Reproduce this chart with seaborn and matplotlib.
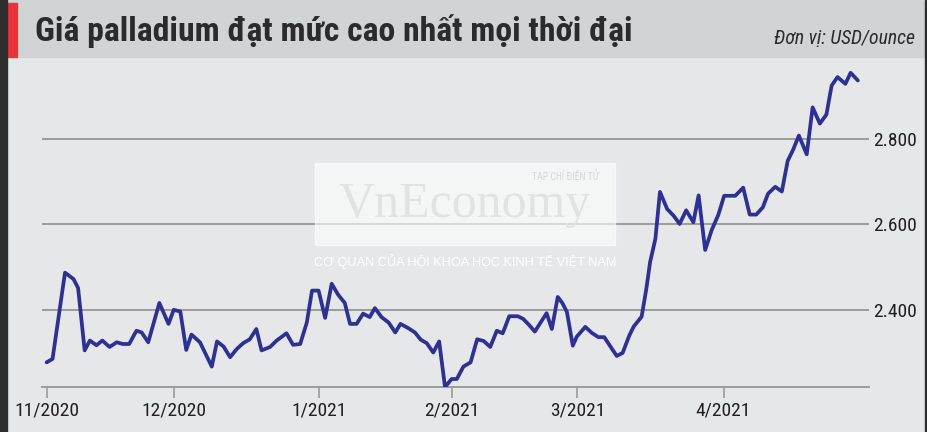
import matplotlib.pyplot as plt
from matplotlib.patches import Rectangle
import pandas as pd
import seaborn as sns

# position in trading days (0 = first session of Nov 2020) and palladium price, USD/ounce
day = [0, 0.9, 2.8, 4.1, 4.8, 5.8, 6.6, 7.6, 8.5, 9.6,
       10.7, 11.6, 12.6, 13.7, 14.5, 15.5, 17.2, 18.6, 19.4, 20.4,
       21.3, 22.1, 23.4, 25.2, 26.0, 27.0, 28.0, 29.0, 30.0, 31.0,
       32.0, 32.8, 34.1, 35.1, 36.6, 37.6, 38.7, 39.7, 40.5, 41.5,
       42.5, 43.5, 44.5, 45.5, 46.3, 47.3, 48.3, 49.3, 50.1, 51.1,
       52.2, 53.2, 54.0, 55.2, 56.2, 57.1, 58.0, 59.0, 59.9, 60.8,
       61.8, 62.6, 63.6, 64.7, 65.7, 66.7, 67.7, 68.7, 69.6, 70.6,
       71.9, 72.7, 73.6, 74.5, 75.5, 76.3, 77.1, 78.0, 78.7, 79.4,
       80.3, 80.9, 82.2, 83.2, 84.2, 85.1, 86.0, 87.0, 87.9, 88.9,
       89.6, 90.8, 91.5, 92.1, 92.9, 93.6, 94.7, 95.7, 96.6, 97.6,
       98.7, 99.5, 100.5, 101.5, 102.5, 103.4, 105.1, 106.3, 107.3, 108.3,
       109.3, 110.1, 111.2, 112.2, 113.1, 113.9, 114.8, 116.0, 116.9, 118.0,
       119.0, 119.8, 120.7, 121.9, 122.7, 123.8]
price = [2277, 2285, 2487, 2472, 2451, 2305, 2328, 2317, 2328, 2313,
         2324, 2320, 2320, 2351, 2347, 2324, 2416, 2367, 2400, 2396,
         2306, 2342, 2324, 2267, 2326, 2314, 2289, 2308, 2322, 2331,
         2355, 2305, 2313, 2328, 2345, 2318, 2320, 2370, 2445, 2445,
         2381, 2461, 2435, 2416, 2367, 2367, 2391, 2383, 2404, 2383,
         2370, 2347, 2367, 2357, 2347, 2330, 2322, 2300, 2326, 2219,
         2238, 2238, 2267, 2277, 2331, 2327, 2313, 2351, 2345, 2385,
         2385, 2379, 2365, 2349, 2373, 2392, 2355, 2430, 2416, 2395,
         2316, 2337, 2360, 2346, 2336, 2336, 2315, 2292, 2299, 2339,
         2361, 2384, 2447, 2512, 2566, 2676, 2636, 2620, 2601, 2633,
         2605, 2668, 2540, 2587, 2622, 2667, 2667, 2686, 2623, 2623,
         2640, 2672, 2688, 2677, 2749, 2774, 2808, 2764, 2874, 2836,
         2857, 2925, 2945, 2929, 2955, 2937]

tick_pos = [0, 19.4, 41.6, 61.9, 81.0, 103.3]
tick_labels = ["11/2020", "12/2020", "1/2021", "2/2021", "3/2021", "4/2021"]
grid_levels = [2400, 2600, 2800]
grid_labels = ["2.400", "2.600", "2.800"]

sns.set_style("white")
plt.rcParams["font.family"] = ["Roboto Condensed", "Liberation Sans", "DejaVu Sans"]

df = pd.DataFrame({"day": day, "price": price})

fig = plt.figure(figsize=(9.28, 4.32), dpi=100)
fig.patch.set_facecolor("#e6e7e8")

# header band, red marker and dark frame edges
fig.add_artist(Rectangle((0, 0.868), 1, 0.132, transform=fig.transFigure,
                         color="#d1d3d4", zorder=0))
fig.add_artist(Rectangle((0.0086, 0.868), 0.0097, 0.125, transform=fig.transFigure,
                         color="#e8323c", zorder=1))
fig.add_artist(Rectangle((0, 0), 0.0075, 1, transform=fig.transFigure,
                         color="#2d2d2d", zorder=1))
fig.add_artist(Rectangle((0.9968, 0), 0.0032, 1, transform=fig.transFigure,
                         color="#2d2d2d", zorder=1))

fig.text(0.0377, 0.928, "Giá palladium đạt mức cao nhất mọi thời đại",
         fontsize=24.3, fontweight="bold", color="#2b2b2b", va="center", ha="left")
fig.text(0.986, 0.898, "Đơn vị: USD/ounce", fontsize=14.2, style="italic",
         color="#2b2b2b", va="baseline", ha="right")

# watermark
fig.add_artist(Rectangle((0.339, 0.433), 0.324, 0.190, transform=fig.transFigure,
                         color="white", alpha=0.6, zorder=1))
fig.text(0.501, 0.525, "VnEconomy", fontsize=36, color="#e2e2e2",
         family=["Liberation Serif", "DejaVu Serif"], ha="center", va="center", zorder=2)
fig.text(0.645, 0.593, "TẠP CHÍ ĐIỆN TỬ", fontsize=7, color="#d6d6d6",
         ha="right", va="center", zorder=2)
fig.text(0.501, 0.394, "CƠ QUAN CỦA HỘI KHOA HỌC KINH TẾ VIỆT NAM", fontsize=9.2,
         color="white", family=["Liberation Sans", "DejaVu Sans"],
         ha="center", va="center", zorder=2)

ax = fig.add_axes([0.0449, 0.1049, 0.8915, 0.7563])
ax.set_facecolor("none")
for lvl in grid_levels:
    ax.axhline(lvl, color="#9b9b9b", lw=1.4, zorder=0)
sns.lineplot(data=df, x="day", y="price", color="#2e3192", linewidth=2.7, ax=ax, zorder=3)

ax.set_xlim(-0.76, 125.5)
ax.set_ylim(2220, 2985)
ax.set_xlabel("")
ax.set_ylabel("")

ax.yaxis.tick_right()
ax.set_yticks(grid_levels, grid_labels)
ax.tick_params(axis="y", length=0, pad=3, labelsize=14, labelcolor="#231f20")
ax.set_xticks(tick_pos, tick_labels)
ax.tick_params(axis="x", length=8, width=1.2, color="#9b9b9b", direction="out",
               labelsize=14, labelcolor="#231f20", pad=3, bottom=True)

for s in ["top", "left", "right"]:
    ax.spines[s].set_visible(False)
ax.spines["bottom"].set_color("#9b9b9b")
ax.spines["bottom"].set_linewidth(1.4)

fig.savefig("out.png", dpi=100, facecolor=fig.get_facecolor())
